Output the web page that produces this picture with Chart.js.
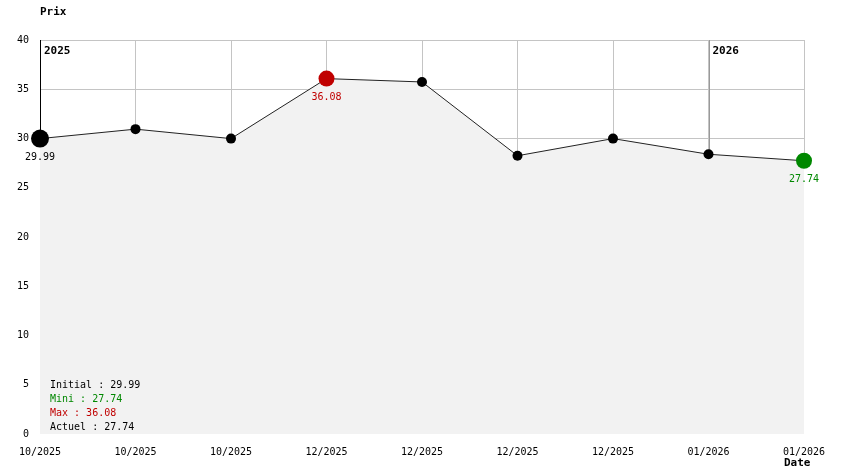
<!DOCTYPE html>
<html>
<head>
<meta charset="utf-8">
<script src="https://cdn.jsdelivr.net/npm/chart.js@4/dist/chart.umd.min.js"></script>
<style>
  html, body { margin: 0; padding: 0; background: #fff; }
  #wrap { width: 844px; height: 474px; }
</style>
</head>
<body>
<div id="wrap"><canvas id="chartPrix" width="844" height="474"></canvas></div>
<script>
const dates = ['10/2025', '10/2025', '10/2025', '12/2025', '12/2025', '12/2025', '12/2025', '01/2026', '01/2026'];
const prix = [29.99, 30.95, 29.99, 36.08, 35.74, 28.25, 29.99, 28.40, 27.74];
const yTicks = [0, 5, 10, 15, 20, 25, 30, 35, 40];
const yearMarks = [{ index: 0, label: '2025', color: '#000000' }, { index: 7, label: '2026', color: '#999999' }];

const MONO = '"DejaVu Sans Mono", "Liberation Mono", monospace';
const RED = '#c00000';
const GREEN = '#008800';
const GRID = '#c4c4c4';

const iMin = prix.indexOf(Math.min(...prix.slice(1)));
const iMax = prix.indexOf(Math.max(...prix));
const last = prix.length - 1;

function pointColor(i) {
    if (i === iMax) return RED;
    if (i === last) return GREEN;
    return '#000000';
}
function pointSize(i) {
    if (i === 0) return 9;
    if (i === iMax || i === last) return 8;
    return 5;
}

// lignes verticales des années + bord droit, sous la zone remplie
const yearLines = {
    id: 'yearLines',
    beforeDatasetsDraw(chart) {
        const { ctx, chartArea, scales } = chart;
        ctx.save();
        ctx.lineWidth = 1;
        yearMarks.forEach(m => {
            const x = Math.round(scales.x.getPixelForValue(m.index)) + 0.5;
            ctx.strokeStyle = m.color;
            ctx.beginPath();
            ctx.moveTo(x, chartArea.top);
            ctx.lineTo(x, chartArea.bottom);
            ctx.stroke();
        });
        const xr = Math.round(scales.x.getPixelForValue(last)) + 0.5;
        ctx.strokeStyle = GRID;
        ctx.beginPath();
        ctx.moveTo(xr, chartArea.top);
        ctx.lineTo(xr, scales.y.getPixelForValue(prix[last]));
        ctx.stroke();
        ctx.restore();
    },
    afterDatasetsDraw(chart) {
        const { ctx, chartArea, scales } = chart;
        ctx.save();
        ctx.font = 'bold 11px ' + MONO;
        ctx.fillStyle = '#000';
        ctx.textBaseline = 'middle';
        yearMarks.forEach(m => {
            const x = scales.x.getPixelForValue(m.index);
            ctx.fillText(m.label, x + 4, chartArea.top + 11);
        });
        ctx.restore();
    }
};

// étiquettes des valeurs, titres et légende texte
const textes = {
    id: 'textes',
    afterDraw(chart) {
        const { ctx, chartArea, scales } = chart;
        ctx.save();
        ctx.font = '10px ' + MONO;
        ctx.textAlign = 'center';
        ctx.textBaseline = 'middle';
        [[0, '#000'], [iMax, RED], [last, GREEN]].forEach(([i, c]) => {
            ctx.fillStyle = c;
            ctx.fillText(prix[i].toFixed(2), scales.x.getPixelForValue(i), scales.y.getPixelForValue(prix[i]) + 19);
        });

        ctx.font = 'bold 11px ' + MONO;
        ctx.fillStyle = '#000';
        ctx.textAlign = 'left';
        ctx.fillText('Prix', 40, 12);
        ctx.fillText('Date', 784, 463);

        ctx.font = '10px ' + MONO;
        const lignes = [
            ['Initial : ' + prix[0].toFixed(2), '#000'],
            ['Mini : ' + prix[iMin].toFixed(2), GREEN],
            ['Max : ' + prix[iMax].toFixed(2), RED],
            ['Actuel : ' + prix[last].toFixed(2), '#000']
        ];
        lignes.forEach(([t, c], k) => {
            ctx.fillStyle = c;
            ctx.fillText(t, chartArea.left + 10, 385 + k * 14);
        });
        ctx.restore();
    }
};

new Chart(document.getElementById('chartPrix'), {
    type: 'line',
    data: {
        labels: dates,
        datasets: [{
            data: prix,
            borderColor: '#222',
            borderWidth: 1,
            tension: 0,
            fill: 'origin',
            backgroundColor: '#f2f2f2',
            pointRadius: prix.map((v, i) => pointSize(i)),
            pointBackgroundColor: prix.map((v, i) => pointColor(i)),
            pointBorderColor: prix.map((v, i) => pointColor(i)),
            pointBorderWidth: 0
        }]
    },
    options: {
        responsive: false,
        animation: false,
        events: [],
        layout: { padding: { top: 40, right: 40, left: 0, bottom: 0 } },
        plugins: { legend: { display: false }, tooltip: { enabled: false } },
        scales: {
            x: {
                offset: false,
                afterFit: s => { s.height = 40; },
                border: { display: false },
                grid: { color: c => (c.index === last ? 'rgba(0,0,0,0)' : GRID), drawTicks: false, tickLength: 0 },
                ticks: { color: '#000', font: { family: MONO, size: 10 }, padding: 12, maxRotation: 0, autoSkip: false }
            },
            y: {
                min: 0,
                max: 40,
                afterFit: s => { s.width = 40; },
                afterBuildTicks: s => { s.ticks = yTicks.map(v => ({ value: v })); },
                border: { display: false },
                grid: { color: c => (c.tick && c.tick.value === 0 ? 'rgba(0,0,0,0)' : GRID), drawTicks: false, tickLength: 0 },
                ticks: { color: '#000', font: { family: MONO, size: 10 }, padding: 11 }
            }
        }
    },
    plugins: [yearLines, textes]
});
</script>
</body>
</html>
